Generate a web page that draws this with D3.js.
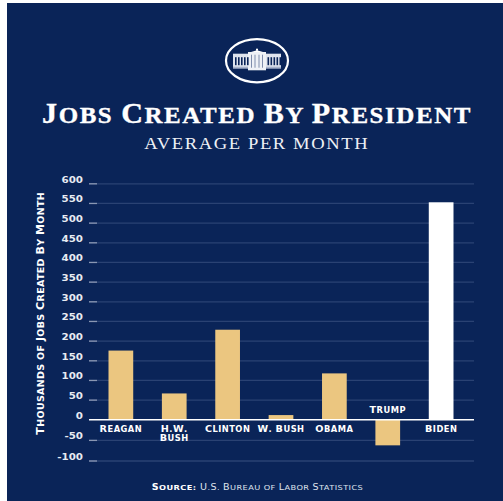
<!DOCTYPE html>
<html><head><meta charset="utf-8">
<script src="https://cdn.jsdelivr.net/npm/d3@7/dist/d3.min.js"></script>
<style>html,body{margin:0;padding:0;background:#fff}svg{display:block}</style></head>
<body><div id="chart"></div>
<script>
const presidents=["Reagan","H.W. Bush","Clinton","W. Bush","Obama","Trump","Biden"];
const jobs=[176,67,229,12,118,-62,553];
const ticks=[600,550,500,450,400,350,300,250,200,150,100,50,0,-50,-100];
const title="Jobs Created By President";
const subtitle="AVERAGE PER MONTH";
const yTitle="Thousands of Jobs Created By Month";
const W=503,H=501,navy="#0a2458",gold="#ebc680";
const svg=d3.select("#chart").append("svg").attr("width",W).attr("height",H);
svg.append("rect").attr("x",7).attr("y",3).attr("width",W-7).attr("height",H-3).attr("fill",navy);
const y=d3.scaleLinear().domain([-100,0,600]).range([461,419.8,183.8]);
const x=d3.scaleBand().domain(presidents).range([94.2,467.8]).paddingInner(.537).paddingOuter(.268);
const sans="'DejaVu Sans',sans-serif",serif="'Liberation Serif',serif";
// small-caps text: capitals at full size, lower case as smaller capitals
function caps(sel,str,size,ratio,weight){
  str.split(/(?<=[^A-Z])(?=[A-Z])|(?<=[A-Z])(?=[^A-Z])/).forEach(part=>{
    const low=!/[A-Z]/.test(part);
    sel.append("tspan").style("font-size",(low?size*ratio:size)+"px").style("font-weight",weight)
      .text(part.replace(/[a-z]/g,c=>c.toUpperCase()));
  });
}
// stretch a text horizontally to a given width around its centre
function fit(t,cx,by,w,rot){
  const n=t.node(); t.attr("text-anchor","middle");
  const len=n.getComputedTextLength();
  t.attr("transform",`translate(${cx},${by})${rot?" rotate(-90)":""} scale(${w/len},1)`);
}
// logo
const logo=svg.append("g").attr("transform","translate(257,60.7)");
logo.append("ellipse").attr("rx",31).attr("ry",21.6).attr("fill","none").attr("stroke","#fff").attr("stroke-width",2.2);
logo.append("rect").attr("x",-24).attr("y",-7).attr("width",48).attr("height",13.5).attr("fill","#dfe4ee");
logo.append("rect").attr("x",-24).attr("y",6).attr("width",48).attr("height",2).attr("fill","#a9b4cc");
logo.append("rect").attr("x",-9).attr("y",-8.7).attr("width",18).attr("height",18.3).attr("fill","#eef1f6");
logo.append("path").attr("d","M-6,-8.7L0,-10.5L6,-8.7Z").attr("fill","#fff");
logo.append("rect").attr("x",-1).attr("y",-12).attr("width",2).attr("height",2).attr("fill","#fff");
d3.range(-22,-9.5,3).concat(d3.range(10.5,23,3)).forEach(c=>logo.append("rect").attr("x",c).attr("y",-3.5).attr("width",1.6).attr("height",8).attr("fill",navy));
[-5.5,-2,2,5.5].forEach(c=>logo.append("rect").attr("x",c-.5).attr("y",-6).attr("width",1).attr("height",13).attr("fill","#7f8dac"));
// titles
const tt=svg.append("text").attr("fill","#fff").style("font-family",serif);
caps(tt,title,29,.83,"bold");
tt.selectAll("tspan").style("stroke","#fff").style("stroke-width",.35);
tt.style("letter-spacing","1.5px");
fit(tt,257,123.3,430);
const st=svg.append("text").attr("fill","#eef0f5").style("font",`17.7px ${serif}`).style("letter-spacing","1.5px").text(subtitle);
fit(st,256.7,149.3,225);
// grid
ticks.filter(t=>t!==0).forEach(t=>{
 svg.append("line").attr("x1",89).attr("x2",474).attr("y1",y(t)).attr("y2",y(t)).attr("stroke","#2a4273").attr("stroke-width",1.3);
 svg.append("line").attr("x1",89).attr("x2",97).attr("y1",y(t)).attr("y2",y(t)).attr("stroke","#8a97b3").attr("stroke-width",1.3);
});
ticks.forEach(t=>{
 const n=svg.append("text").attr("fill","#e8ebf2").style("font",`bold 9.2px ${sans}`).text(t);
 n.attr("transform",`translate(83,${y(t)-1}) scale(1.12,1)`).attr("text-anchor","end");
});
// y title
const yt=svg.append("text").attr("fill","#fff").style("font-family",sans).style("letter-spacing",".3px");
caps(yt,yTitle,10,.86,"bold");
fit(yt,43.5,313.3,243,true);
// bars
svg.selectAll("rect.bar").data(presidents).join("rect").attr("class","bar")
 .attr("x",d=>x(d)).attr("width",x.bandwidth())
 .attr("y",(d,i)=>Math.min(y(jobs[i]),y(0)))
 .attr("height",(d,i)=>Math.abs(y(jobs[i])-y(0)))
 .attr("fill",d=>d==="Biden"?"#fff":gold);
svg.append("line").attr("x1",89).attr("x2",474).attr("y1",y(0)).attr("y2",y(0)).attr("stroke","#fff").attr("stroke-width",1.6);
// labels
const labelStretch=1.05;
presidents.forEach(p=>{
 const cx=x(p)+x.bandwidth()/2;
 const lines=p==="H.W. Bush"?["H.W.","Bush"]:[p];
 lines.forEach((l,k)=>{
  const t=svg.append("text").attr("fill","#fff").style("font-family",sans).style("letter-spacing",".45px");
  caps(t,l,9.2,.86,"bold");
  const len=t.node().getComputedTextLength();
  fit(t,cx,(p==="Trump"?413.3:431.7)+k*9,len*labelStretch);
 });
});
// source
const s=svg.append("text").attr("fill","#dfe3ec").style("font-family",sans).style("letter-spacing",".35px");
caps(s,"Source:",8,.86,"bold");
s.selectAll("tspan").attr("fill","#fff");
s.append("tspan").style("font-size","8px").text(" ");
caps(s,"U.S. Bureau of Labor Statistics",8,.86,"normal");
fit(s,257.5,489.7,211.6);
</script></body></html>
